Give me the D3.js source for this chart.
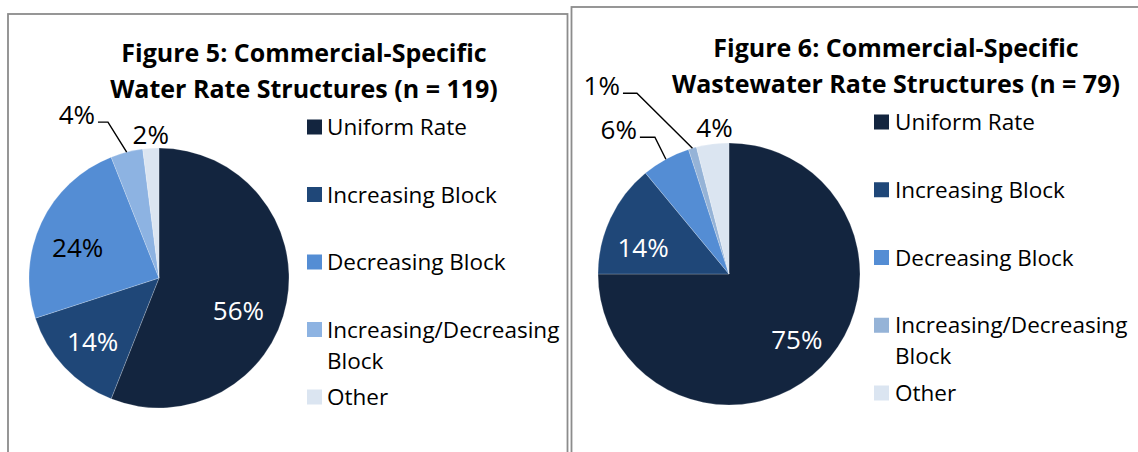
<!DOCTYPE html>
<html>
<head>
<meta charset="utf-8">
<script src="https://cdn.jsdelivr.net/npm/d3@7"></script>
<style>
  html, body { margin: 0; padding: 0; background: #fff; }
  svg { display: block; }
  text { font-family: "Open Sans", Lato, sans-serif; }
</style>
</head>
<body>
<svg id="chart" width="1138" height="452"></svg>
<script>
// ---- data ----
const categories = ["Uniform Rate", "Increasing Block", "Decreasing Block", "Increasing/Decreasing Block", "Other"];
const legendLines = [["Uniform Rate"], ["Increasing Block"], ["Decreasing Block"], ["Increasing/Decreasing", "Block"], ["Other"]];

const waterTitle = ["Figure 5: Commercial-Specific", "Water Rate Structures (n = 119)"];
const waterShares = [56, 14, 24, 4, 2];

const wastewaterTitle = ["Figure 6: Commercial-Specific", "Wastewater Rate Structures (n = 79)"];
const wastewaterShares = [75, 14, 6, 1, 4];

// ---- styles ----
const waterColors = ["#13253f", "#1f4778", "#548dd4", "#8db3e2", "#dbe5f1"];
const wastewaterColors = ["#13253f", "#1f4778", "#548dd4", "#95b3d7", "#dbe5f1"];

// label placement per slice: inside/near labels sit at k*radius on the slice's
// mid angle (plus a nudge); leader labels get an elbow offset from the rim
const waterLabels = [
  { k: 0.7, dx: -10, dy: 16, fill: "#fff" },
  { k: 0.7, dx: 0, dy: 1, fill: "#fff" },
  { k: 0.7, dx: 1, dy: 8, fill: "#000" },
  { leader: [-18.7, -30], run: 10, fill: "#000" },
  { k: 1.13, dx: 1, dy: 3, fill: "#000" }
];
const wastewaterLabels = [
  { k: 0.7, dx: 3, dy: 1, fill: "#fff" },
  { k: 0.7, dx: -3, dy: 13, fill: "#fff" },
  { leader: [-11, -22], run: 15, fill: "#000" },
  { leader: [-55.5, -55], run: 14, fill: "#000" },
  { k: 1.13, dx: 4, dy: 0, fill: "#000" }
];

const panels = [
  {
    title: waterTitle, shares: waterShares, colors: waterColors, labels: waterLabels,
    frame: { x: 8, y: 14, w: 559.5 },
    cx: 159, cy: 278, r: 130,
    titleX: 304, titleY: [62, 98],
    legend: { swatchX: 307, textX: 327, top: 127, bottom: 397 }
  },
  {
    title: wastewaterTitle, shares: wastewaterShares, colors: wastewaterColors, labels: wastewaterLabels,
    frame: { x: 571.5, y: 7, w: 600 },
    cx: 729, cy: 274, r: 131,
    titleX: 896, titleY: [57, 93],
    legend: { swatchX: 874, textX: 895, top: 122, bottom: 393 }
  }
];

const svg = d3.select("#chart");

const pie = d3.pie().sort(null).value(d => d);

panels.forEach(p => {
  // panel frame (open at the bottom edge of the view)
  svg.append("rect")
    .attr("x", p.frame.x).attr("y", p.frame.y)
    .attr("width", p.frame.w).attr("height", 600)
    .attr("fill", "none")
    .attr("stroke", "#8c8c8c")
    .attr("stroke-width", 1.8);

  // title
  const title = svg.append("text")
    .attr("text-anchor", "middle")
    .attr("font-weight", 700)
    .attr("font-size", 25)
    .attr("fill", "#000");
  p.title.forEach((line, i) => {
    title.append("tspan").attr("x", p.titleX).attr("y", p.titleY[i]).text(line);
  });

  // pie
  const g = svg.append("g").attr("transform", `translate(${p.cx},${p.cy})`);
  const arcs = pie(p.shares);
  const arc = d3.arc().innerRadius(0).outerRadius(p.r);
  const color = d3.scaleOrdinal().domain(categories).range(p.colors);

  g.selectAll("path.slice")
    .data(arcs)
    .join("path")
    .attr("class", "slice")
    .attr("d", arc)
    .attr("fill", (d, i) => color(categories[i]))
    .attr("stroke", "#ffffff")
    .attr("stroke-opacity", 0.35)
    .attr("stroke-width", 0.6);

  // data labels
  arcs.forEach((d, i) => {
    const L = p.labels[i];
    const mid = (d.startAngle + d.endAngle) / 2;
    const ux = Math.sin(mid), uy = -Math.cos(mid);
    const txt = d.data + "%";
    if (L.leader) {
      const rimX = ux * p.r, rimY = uy * p.r;
      const ex = rimX + L.leader[0], ey = rimY + L.leader[1];
      const hx = ex - L.run;
      g.append("path")
        .attr("d", `M${rimX},${rimY}L${ex},${ey}L${hx},${ey}`)
        .attr("fill", "none")
        .attr("stroke", "#000")
        .attr("stroke-width", 1.4);
      g.append("text")
        .attr("x", hx - 3).attr("y", ey + 1.5)
        .attr("text-anchor", "end")
        .attr("font-size", 26)
        .attr("fill", L.fill)
        .text(txt);
    } else {
      const lx = ux * p.r * L.k + L.dx, ly = uy * p.r * L.k + L.dy;
      g.append("text")
        .attr("x", lx).attr("y", ly)
        .attr("dy", "0.36em")
        .attr("text-anchor", "middle")
        .attr("font-size", 26)
        .attr("fill", L.fill)
        .text(txt);
    }
  });

  // legend
  const ly = d3.scalePoint().domain(categories).range([p.legend.top, p.legend.bottom]);
  categories.forEach((c, i) => {
    const y = ly(c);
    svg.append("rect")
      .attr("x", p.legend.swatchX).attr("y", y - 7.5)
      .attr("width", 15).attr("height", 15)
      .attr("fill", color(c));
    const t = svg.append("text")
      .attr("font-size", 22.5)
      .attr("fill", "#000");
    legendLines[i].forEach((line, j) => {
      t.append("tspan")
        .attr("x", p.legend.textX)
        .attr("y", y + j * 31)
        .attr("dy", "0.36em")
        .text(line);
    });
  });
});
</script>
</body>
</html>
